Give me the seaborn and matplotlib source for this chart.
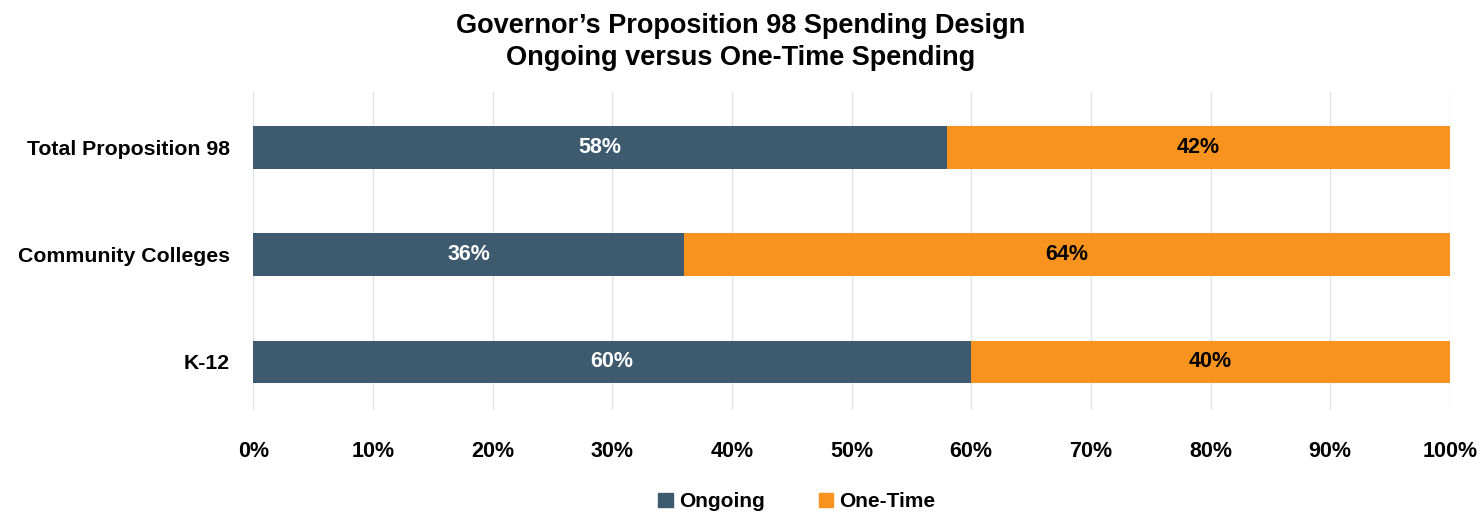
import matplotlib
matplotlib.use("Agg")
import matplotlib.pyplot as plt
import matplotlib.patches as mpatches
from matplotlib.ticker import PercentFormatter
import seaborn as sns
import pandas as pd

categories = ["Total Proposition 98", "Community Colleges", "K-12"]
ongoing = [58, 36, 60]
one_time = [42, 64, 40]
ticks = list(range(0, 101, 10))

blue = "#3D5A6E"
orange = "#F7931E"

sns.set_theme(style="whitegrid")
plt.rcParams["font.family"] = ["Liberation Sans Narrow", "Liberation Sans", "DejaVu Sans"]
plt.rcParams["font.weight"] = "bold"
plt.rcParams["text.color"] = "black"

df = pd.DataFrame({"cat": categories, "ongoing": ongoing, "one_time": one_time})
df["total"] = df["ongoing"] + df["one_time"]

fig = plt.figure(figsize=(14.81, 5.12), dpi=100)
ax = fig.add_axes([0.171, 0.199, 0.808, 0.621])

sns.barplot(data=df, y="cat", x="total", color=orange, orient="h", width=0.4,
            ax=ax, saturation=1, order=categories, linewidth=0)
sns.barplot(data=df, y="cat", x="ongoing", color=blue, orient="h", width=0.4,
            ax=ax, saturation=1, order=categories, linewidth=0)

for i, (o, t) in enumerate(zip(ongoing, one_time)):
    ax.text(o / 2, i, f"{o}%", ha="center", va="center", color="white",
            fontsize=15.5, fontweight="bold")
    ax.text(o + t / 2, i, f"{t}%", ha="center", va="center", color="black",
            fontsize=15.5, fontweight="bold")

ax.set_xlim(0, 100)
ax.set_ylim(2.45, -0.52)
ax.set_xticks(ticks)
ax.xaxis.set_major_formatter(PercentFormatter(decimals=0))
ax.set_xlabel("")
ax.set_ylabel("")
ax.grid(axis="y", visible=False)
ax.grid(axis="x", color="#E3E3E3", linewidth=1)
for s in ax.spines.values():
    s.set_visible(False)
ax.tick_params(axis="x", labelsize=15.5, pad=22, length=0, labelcolor="black")
ax.tick_params(axis="y", labelsize=15.3, pad=17, length=0, labelcolor="black")
for lbl in ax.get_xticklabels() + ax.get_yticklabels():
    lbl.set_fontweight("bold")

fig.suptitle("Governor\u2019s Proposition 98 Spending Design\nOngoing versus One-Time Spending",
             y=0.975, fontsize=19.5, fontweight="bold", linespacing=1.3, color="black")

handles = [mpatches.Patch(color=blue, label="Ongoing"),
           mpatches.Patch(color=orange, label="One-Time")]
fig.legend(handles=handles, loc="lower center", bbox_to_anchor=(0.538, -0.035), ncol=2,
           frameon=False, prop={"size": 15, "weight": "bold"}, labelcolor="black",
           handlelength=0.7, handleheight=0.7, handletextpad=0.3, columnspacing=2.6)

fig.savefig("out.png", dpi=100)
